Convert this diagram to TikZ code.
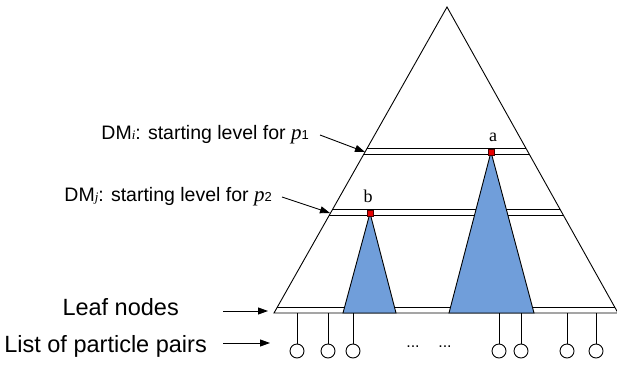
\documentclass[tikz,border=0pt]{standalone}
\usepackage{fontspec}
\setmainfont{Liberation Sans}
\newfontfamily\serifface{Liberation Serif}
\usetikzlibrary{calc,arrows.meta}
\definecolor{subtree}{RGB}{112,158,218}
\definecolor{mark}{RGB}{230,0,0}
\tikzset{
  edge/.style={line width=0.9pt,black},
  pointer/.style={line width=0.9pt,-{Triangle[length=10pt,width=7pt]}},
  sub/.style={edge,fill=subtree},
  rootpt/.style={draw=black!70!red,line width=0.4pt,fill=mark,minimum size=5.5pt,inner sep=0pt,rectangle},
  particle/.style={circle,draw,line width=0.9pt,minimum size=14pt,inner sep=0pt},
  biglabel/.style={font=\fontsize{23.5}{26}\selectfont,inner sep=0pt},
  lvllabel/.style={font=\fontsize{19.5}{21}\selectfont,inner sep=0pt},
  ptlabel/.style={font=\serifface\fontsize{18}{20}\selectfont,inner sep=0pt},
  dotlabel/.style={font=\fontsize{16}{18}\selectfont,inner sep=0pt}
}
\begin{document}
\begin{tikzpicture}[x=1pt,y=-1pt]
\useasboundingbox (0,0) rectangle (617,364);
% outer tree
\coordinate (apex) at (447,7);
\coordinate (BL) at (274,313);
\coordinate (BR) at (618,313);
\draw[edge] (BL) -- (apex) -- (BR) -- cycle;
% level bands
\foreach \n/\t in {i1/0.4608,i2/0.4804,j1/0.6601,j2/0.6797,leaf/0.9804}{
  \coordinate (L\n) at ($(apex)!\t!(BL)$);
  \coordinate (R\n) at ($(apex)!\t!(BR)$);
  \draw[edge] (L\n) -- (R\n);
}
% subtrees
\coordinate (ra) at (491,152);
\coordinate (rb) at (370,213);
\coordinate (aL) at (449,313);
\coordinate (aR) at (534,313);
\coordinate (bL) at (343,313);
\coordinate (bR) at (396,313);
\draw[sub] (ra) -- (aL) -- (aR) -- cycle;
\draw[sub] (rb) -- (bL) -- (bR) -- cycle;
\node[rootpt] (na) at (ra) {};
\node[rootpt] (nb) at (rb) {};
\node[ptlabel] (la) at (493,137) {a};
\node[ptlabel] (lb) at (368,196) {b};
% particle pairs
\foreach \k/\x in {1/297,2/328,3/353,4/499,5/521,6/567,7/596}{
  \coordinate (t\k) at (\x,313);
  \node[particle] (p\k) at (\x,351) {};
  \draw[edge] (t\k) -- (p\k.north);
}
\node[dotlabel] (dots1) at (413,347) {...};
\node[dotlabel] (dots2) at (445,347) {...};
% labels
\node[lvllabel,anchor=east] (dmi) at (309,135) {DM{\serifface\itshape\fontsize{13}{14}\selectfont i}: starting level for {\serifface\itshape\fontsize{21}{22}\selectfont p}{\fontsize{13}{14}\selectfont 1}};
\node[lvllabel,anchor=east] (dmj) at (272,197) {DM{\serifface\itshape\fontsize{13}{14}\selectfont j}: starting level for {\serifface\itshape\fontsize{21}{22}\selectfont p}{\fontsize{13}{14}\selectfont 2}};
\coordinate (dmitip) at (365,152);
\coordinate (dmjtip) at (330,213);
\draw[pointer] ($(dmi.east)+(11,0)$) -- (dmitip);
\draw[pointer] ($(dmj.east)+(10,0)$) -- (dmjtip);
\node[biglabel,anchor=east] (leaf) at (179,307) {Leaf nodes};
\node[biglabel,anchor=east] (list) at (207,346) {List of particle pairs};
\coordinate (leaftip) at (268,311);
\coordinate (listtip) at (270,343);
\draw[pointer] (223,311) -- (leaftip);
\draw[pointer] (223,343) -- (listtip);
\end{tikzpicture}
\end{document}
